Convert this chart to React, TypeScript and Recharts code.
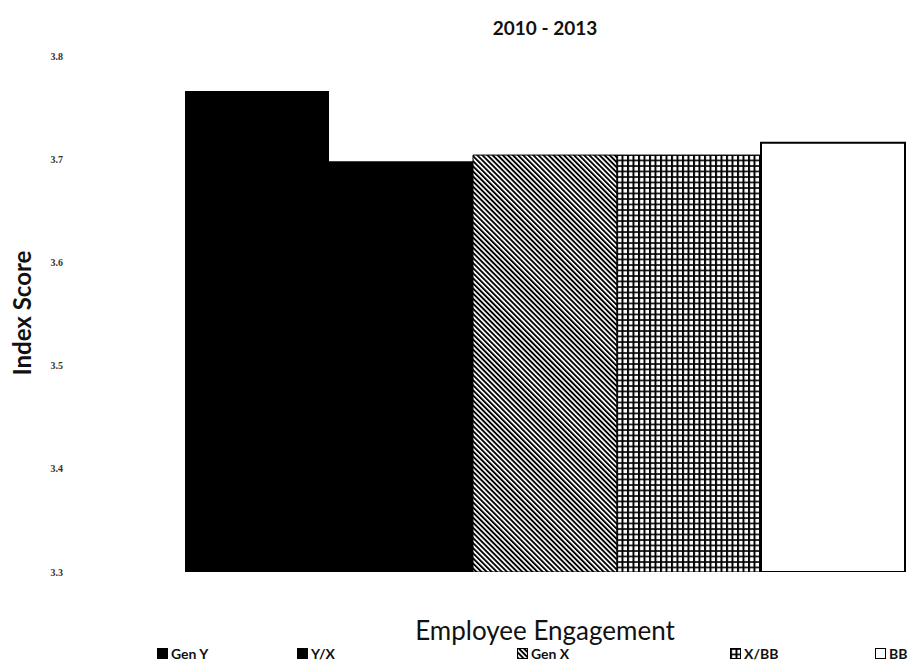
import { BarChart, Bar, XAxis, YAxis, Legend } from "recharts";

const category = ["Employee Engagement"];
const seriesNames = ["Gen Y", "Y/X", "Gen X", "X/BB", "BB"];
const seriesValues = [3.766, 3.698, 3.704, 3.704, 3.716];
const yTicks = [3.3, 3.4, 3.5, 3.6, 3.7, 3.8];

const fills = ["#000", "#000", "url(#diag)", "url(#grid)", "#fff"];
const legendLeft = [157, 297, 517, 730, 875];

const data = category.map((name) => {
  const row: Record<string, string | number> = { name };
  seriesNames.forEach((s, i) => (row[s] = seriesValues[i]));
  return row;
});

const font = "Lato, 'Open Sans', sans-serif";

function LegendContent() {
  return (
    <div style={{ position: "relative", width: 909, height: 13 }}>
      {seriesNames.map((s, i) => (
        <div
          key={s}
          style={{
            position: "absolute",
            left: legendLeft[i],
            top: 0,
            height: 13,
            lineHeight: "13px",
            display: "flex",
            alignItems: "center",
            fontFamily: font,
            fontWeight: 700,
            fontSize: 14,
            color: "#111",
          }}
        >
          <svg width={11} height={11} style={{ marginRight: 3 }}>
            <rect x={0.5} y={0.5} width={10} height={10} fill={fills[i]} stroke="#000" strokeWidth={1} />
          </svg>
          {s}
        </div>
      ))}
    </div>
  );
}

export default function App() {
  return (
    <div style={{ position: "absolute", left: 0, top: 0, width: 909, height: 661, background: "#fff" }}>
      <div
        style={{
          position: "absolute",
          left: 0,
          width: 1090,
          top: 16,
          textAlign: "center",
          fontFamily: font,
          fontWeight: 700,
          fontSize: 19,
          color: "#111",
        }}
      >
        2010 - 2013
      </div>
      <BarChart
        width={909}
        height={661}
        data={data}
        margin={{ top: 56, right: 4, bottom: 0, left: 0 }}
        barCategoryGap={0}
        barGap={0}
      >
        <defs>
          <pattern id="diag" width={3.6} height={3.6} patternUnits="userSpaceOnUse" patternTransform="rotate(-45)">
            <rect width={3.6} height={3.6} fill="#fff" />
            <line x1={0} y1={0} x2={0} y2={3.6} stroke="#000" strokeWidth={3.8} />
          </pattern>
          <pattern id="grid" width={5.5} height={5.5} patternUnits="userSpaceOnUse">
            <rect width={5.5} height={5.5} fill="#fff" />
            <line x1={1} y1={0} x2={1} y2={5.5} stroke="#000" strokeWidth={2} />
            <line x1={0} y1={1} x2={5.5} y2={1} stroke="#000" strokeWidth={1.6} />
          </pattern>
        </defs>
        <XAxis
          dataKey="name"
          tick={false}
          tickLine={false}
          axisLine={false}
          height={89}
          label={{
            value: "Employee Engagement",
            position: "insideBottom",
            offset: 21,
            style: { fontFamily: font, fontSize: 26, fill: "#111" },
          }}
        />
        <YAxis
          width={185}
          domain={[3.3, 3.8]}
          ticks={yTicks}
          allowDataOverflow
          axisLine={false}
          tickLine={false}
          tickMargin={116}
          tickFormatter={(v: number) => v.toFixed(1)}
          tick={{ fontFamily: "'Liberation Serif', serif", fontSize: 10, fontWeight: 700, fill: "#333" }}
          label={{
            content: () => (
              <text
                x={0}
                y={0}
                transform="translate(31, 313) rotate(-90)"
                textAnchor="middle"
                fontFamily={font}
                fontWeight={700}
                fontSize={24}
                fill="#111"
              >
                Index Score
              </text>
            ),
          }}
        />
        <Legend
          layout="horizontal"
          verticalAlign="middle"
          content={<LegendContent />}
          wrapperStyle={{ top: 647, left: 0, width: 909, height: 13 }}
        />
        {seriesNames.map((s, i) => (
          <Bar
            key={s}
            dataKey={s}
            fill={fills[i]}
            stroke={i >= 2 ? "#000" : "none"}
            strokeWidth={i === 4 ? 2 : 1}
            isAnimationActive={false}
          />
        ))}
      </BarChart>
    </div>
  );
}
